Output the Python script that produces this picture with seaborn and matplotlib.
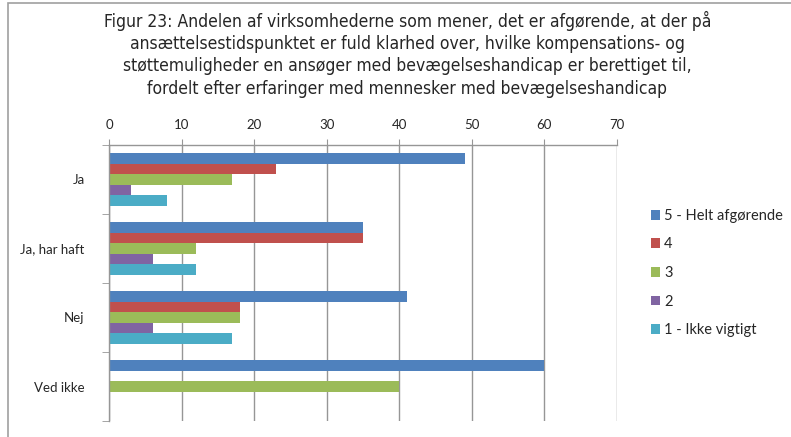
import numpy as np
import pandas as pd
import seaborn as sns
from matplotlib import pyplot as plt
from matplotlib.patches import Rectangle
from matplotlib.ticker import FixedLocator

# Data
kategorier = ['Ja', 'Ja, har haft', 'Nej', 'Ved ikke']
svar = ['5 - Helt afgørende', '4', '3', '2', '1 - Ikke vigtigt']
helt_afgoerende = [49, 35, 41, 60]
fire = [23, 35, 18, 0]
tre = [17, 12, 18, 40]
to = [3, 6, 6, 0]
ikke_vigtigt = [8, 12, 17, 0]
farver = ['#4F81BD', '#C0504D', '#9BBB59', '#8064A2', '#4BACC6']

titel = ('Figur 23: Andelen af virksomhederne som mener, det er afgørende, at der på\n'
         'ansættelsestidspunktet er fuld klarhed over, hvilke kompensations- og\n'
         'støttemuligheder en ansøger med bevægelseshandicap er berettiget til,\n'
         'fordelt efter erfaringer med mennesker med bevægelseshandicap')

serier = [helt_afgoerende, fire, tre, to, ikke_vigtigt]
rows = []
for s, vals in zip(svar, serier):
    for k, v in zip(kategorier, vals):
        rows.append({'kategori': k, 'svar': s, 'andel': v})
df = pd.DataFrame(rows)

sns.set_style('white')
plt.rcParams['font.family'] = ['Lato', 'DejaVu Sans']

fig = plt.figure(figsize=(7.91, 4.37), dpi=100)
ax = fig.add_axes([109 / 791, 1 - 421 / 437, (617 - 109) / 791, (421 - 145) / 437])

sns.barplot(data=df, y='kategori', x='andel', hue='svar', orient='h',
            palette=farver, saturation=1, width=0.76, errorbar=None, linewidth=0, ax=ax)

ax.set_xlim(0, 70)
ax.set_ylim(3.5, -0.5)
ax.xaxis.tick_top()
ax.set_xticks(range(0, 71, 10))
ax.set_xlabel('')
ax.set_ylabel('')
ax.grid(axis='x', color='#969696', linewidth=1)
ax.set_axisbelow(True)
ax.tick_params(axis='x', top=True, length=4, color='#969696', labelsize=9.5, pad=6)
ax.tick_params(axis='y', left=False, labelsize=9.5, pad=14)
ax.yaxis.set_minor_locator(FixedLocator([-0.5, 0.5, 1.5, 2.5, 3.5]))
ax.tick_params(axis='y', which='minor', left=True, length=5, color='#969696')
for side in ['right', 'bottom']:
    ax.spines[side].set_visible(False)
for side in ['left', 'top']:
    ax.spines[side].set_color('#969696')
    ax.spines[side].set_linewidth(1)

handles, labels = ax.get_legend_handles_labels()
ax.get_legend().remove()
fig.legend(handles, labels, loc='upper left', bbox_to_anchor=(645 / 791, 1 - 203 / 437),
           frameon=False, fontsize=10.5, handlelength=0.65, handleheight=0.65,
           handletextpad=0.25, labelspacing=1.0, borderaxespad=0)

fig.text(0.515, 1 - 11 / 437, titel, ha='center', va='top', fontsize=12.5,
         family=['DejaVu Sans'], linespacing=1.3, stretch='condensed')

fig.patches.append(Rectangle((8 / 791, -0.1), 1.2, 1 - 3 / 437 + 0.1, transform=fig.transFigure,
                             fill=False, edgecolor='#a0a0a0', linewidth=1.2))

fig.savefig('out.png', dpi=100)
